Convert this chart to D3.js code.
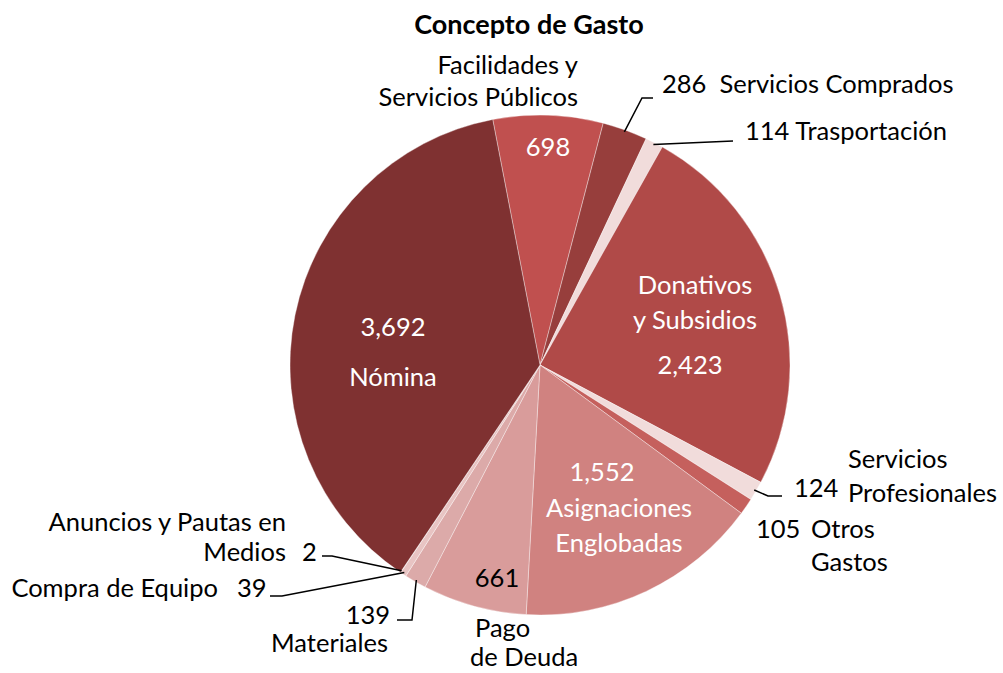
<!DOCTYPE html>
<html>
<head>
<meta charset="utf-8">
<script src="https://cdn.jsdelivr.net/npm/d3@7"></script>
<style>
  html, body { margin: 0; padding: 0; background: #ffffff; }
  svg text { font-family: Lato, "Open Sans", sans-serif; white-space: pre; }
</style>
</head>
<body>
<svg id="chart" width="1003" height="673"></svg>
<script>
// ---- data ----
const categories = [
  "Facilidades y Servicios Públicos",
  "Servicios Comprados",
  "Trasportación",
  "Donativos y Subsidios",
  "Servicios Profesionales",
  "Otros Gastos",
  "Asignaciones Englobadas",
  "Pago de Deuda",
  "Materiales",
  "Compra de Equipo",
  "Anuncios y Pautas en Medios",
  "Nómina"
];
const values = [698, 286, 114, 2423, 124, 105, 1552, 661, 139, 39, 2, 3692];
const valueLabels = ["698", "286", "114", "2,423", "124", "105", "1,552", "661", "139", "39", "2", "3,692"];
const colors = ["#c0504f", "#973e3c", "#f1dcdb", "#b04a48", "#f1dcdb", "#c5605d",
                "#d08280", "#d99c9b", "#dcaaa9", "#e8c4c3", "#eed3d2", "#7f3131"];
const title = "Concepto de Gasto";

// ---- layout ----
const W = 1003, H = 673;
const cx = 540, cy = 365, R = 250;
const startDeg = -10.9;
const FS = 25.5;

const svg = d3.select("#chart");
svg.append("text")
  .attr("x", 529).attr("y", 34)
  .attr("text-anchor", "middle")
  .attr("font-size", 27).attr("font-weight", "bold")
  .attr("fill", "#000")
  .text(title);

const data = categories.map((c, i) => ({ name: c, value: values[i], label: valueLabels[i], color: colors[i] }));
const pie = d3.pie().sort(null).value(d => d.value)
  .startAngle(startDeg * Math.PI / 180)
  .endAngle(startDeg * Math.PI / 180 + 2 * Math.PI);
const arcs = pie(data);
const arc = d3.arc().innerRadius(0).outerRadius(R);

const g = svg.append("g").attr("transform", `translate(${cx},${cy})`);
g.selectAll("path").data(arcs).join("path")
  .attr("d", arc)
  .attr("fill", d => d.data.color)
  .attr("stroke", "rgba(255,255,255,0.45)")
  .attr("stroke-width", 0.8);

// helper: point on the rim at the middle angle of a slice
function rim(i, rr) {
  const a = (arcs[i].startAngle + arcs[i].endAngle) / 2;
  return [cx + rr * Math.sin(a), cy - rr * Math.cos(a)];
}

// label text: [slice index, lines, x, y, anchor, color, line height]
const texts = [
  [0, ["Facilidades y", "Servicios Públicos"], 578, 74, "end", "#000", 32],
  [0, ["698"], 548, 156, "middle", "#fff", 0],
  [1, ["286  Servicios Comprados"], 662, 93, "start", "#000", 0],
  [2, ["114 Trasportación"], 745, 140, "start", "#000", 0],
  [3, ["Donativos", "y Subsidios"], 695, 294, "middle", "#fff", 35],
  [3, ["2,423"], 690, 374, "middle", "#fff", 0],
  [4, ["Servicios", "Profesionales"], 848, 468, "start", "#000", 34],
  [4, ["124"], 794, 497, "start", "#000", 0],
  [5, ["105"], 756, 538, "start", "#000", 0],
  [5, ["Otros", "Gastos"], 811, 538, "start", "#000", 33],
  [6, ["1,552"], 602, 481, "middle", "#fff", 0],
  [6, ["Asignaciones", "Englobadas"], 619, 517, "middle", "#fff", 35],
  [7, ["661"], 497, 587, "middle", "#000", 0],
  [7, ["Pago"], 475, 637, "start", "#000", 0],
  [7, ["de Deuda"], 470, 666, "start", "#000", 0],
  [8, ["139"], 390, 624, "end", "#000", 0],
  [8, ["Materiales"], 388, 652, "end", "#000", 0],
  [9, ["Compra de Equipo"], 218, 597, "end", "#000", 0],
  [9, ["39"], 237, 597, "start", "#000", 0],
  [10, ["Anuncios y Pautas en"], 286, 531, "end", "#000", 0],
  [10, ["Medios"], 286, 561, "end", "#000", 0],
  [10, ["2"], 302, 561, "start", "#000", 0],
  [11, ["3,692"], 393, 336, "middle", "#fff", 0],
  [11, ["Nómina"], 393, 386, "middle", "#fff", 0]
];
texts.forEach(([i, lines, x, y, anchor, col, lh]) => {
  const t = svg.append("text")
    .attr("x", x).attr("y", y)
    .attr("text-anchor", anchor)
    .attr("font-size", FS)
    .attr("fill", col);
  lines.forEach((ln, k) => {
    t.append("tspan").attr("x", x).attr("dy", k === 0 ? 0 : lh).text(ln);
  });
});

// leader lines: [slice index, bend points after rim point]
const leaders = [
  [1, [[642, 98], [653, 98]]],
  [2, [[733, 141]]],
  [4, [[768, 496], [782, 496]]],
  [8, [[412, 620], [397, 620]]],
  [9, [[282, 596], [270, 596]]],
  [10, [[332, 556], [322, 556]]]
];
const line = d3.line();
leaders.forEach(([i, pts]) => {
  const p0 = rim(i, R - 2);
  svg.append("path")
    .attr("d", line([p0, ...pts]))
    .attr("fill", "none")
    .attr("stroke", "#000")
    .attr("stroke-width", 1.5);
});
</script>
</body>
</html>
